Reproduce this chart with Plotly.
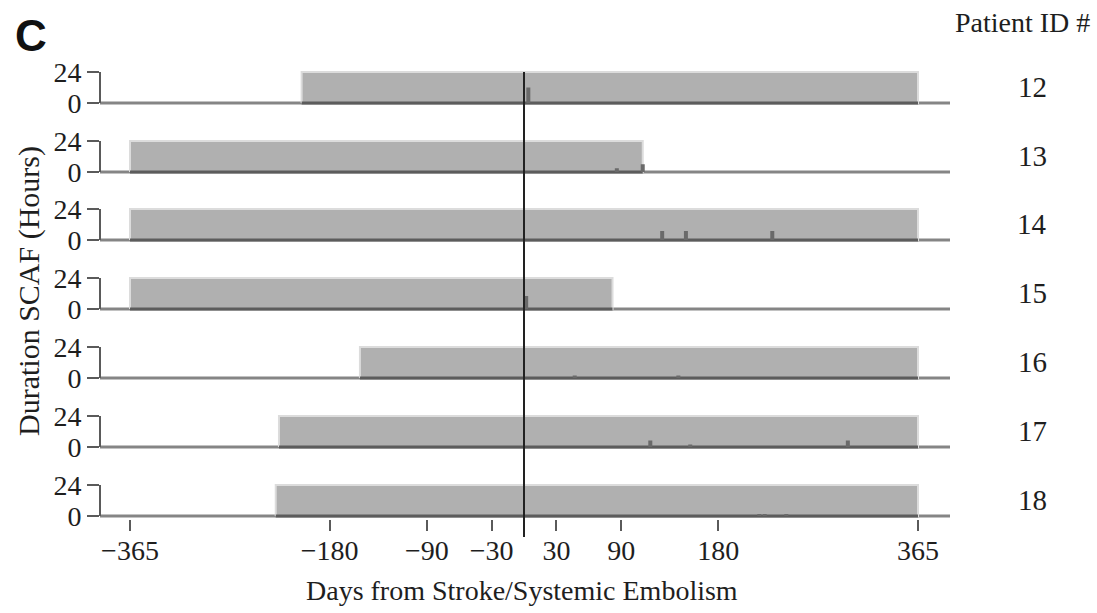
import plotly.graph_objects as go

# ---------------- data ----------------
patients = [12, 13, 14, 15, 16, 17, 18]
monitor_start = [-206, -365, -365, -365, -152, -227, -230]   # days
monitor_end = [365, 110, 365, 82, 365, 365, 365]              # days
event_days = [[4], [86, 110], [128, 150, 230], [2], [47, 143], [117, 154, 300], [218, 223, 243]]
event_hours = [[12], [3, 6], [7, 7, 7], [10], [2, 2], [5, 2, 5], [1.5, 1.5, 1.5]]
x_ticks = [-365, -180, -90, -30, 30, 90, 180, 365]
x_ticktext = ["\u2212365", "\u2212180", "\u221290", "\u221230", "30", "90", "180", "365"]
y_ticks = [0, 24]

# ---------------- layout helpers ----------------
W, H = 1097, 613
FONT = "Liberation Serif"
TXT = "#1e1e1e"
x_left_px, x_right_px = 100, 950
row0_px = [103, 172, 240, 309, 378, 447, 516]  # pixel row of "0" per panel
px_per_h = 31 / 24.0
yr = [-2, 26]

fig = go.Figure()
shapes = []
annotations = []
layout = {}

for i, pid in enumerate(patients):
    k = i + 1
    yname = "y" if k == 1 else f"y{k}"
    yax = "yaxis" if k == 1 else f"yaxis{k}"
    y0 = row0_px[i]
    bot = y0 + (0 - yr[0]) * px_per_h
    top = y0 - (yr[1] - 0) * px_per_h
    layout[yax] = dict(
        domain=[1 - bot / H, 1 - top / H], range=yr, anchor="x", automargin=False,
        tickvals=y_ticks, ticktext=[str(v) for v in y_ticks],
        ticks="outside", ticklen=12, tickwidth=2, tickcolor="#5a5a5a",
        showgrid=False, zeroline=False, showline=False,
        tickfont=dict(family=FONT, size=28, color=TXT), fixedrange=True,
    )
    s, e = monitor_start[i], monitor_end[i]
    # monitoring window
    fig.add_trace(go.Scatter(
        x=[s, e, e, s, s], y=[0, 0, 24, 24, 0], mode="lines", fill="toself",
        fillcolor="#b0b0b0", line=dict(color="#dcdcdc", width=2),
        xaxis="x", yaxis=yname, showlegend=False, hoverinfo="skip"))
    # dark baseline under window
    fig.add_trace(go.Scatter(
        x=[s, e], y=[0, 0], mode="lines", line=dict(color="#5c5c5c", width=3),
        xaxis="x", yaxis=yname, showlegend=False, hoverinfo="skip"))
    # SCAF episodes
    for d, h in zip(event_days[i], event_hours[i]):
        fig.add_trace(go.Scatter(
            x=[d, d], y=[0, h], mode="lines", line=dict(color="#6a6a6a", width=4),
            xaxis="x", yaxis=yname, showlegend=False, hoverinfo="skip"))
    # full baseline
    shapes.append(dict(type="line", xref="paper", yref=yname,
                       x0=x_left_px / W, x1=x_right_px / W, y0=0, y1=0,
                       line=dict(color="#858585", width=3), layer="below"))
    # bracket axis line
    shapes.append(dict(type="line", xref="paper", yref=yname,
                       x0=x_left_px / W, x1=x_left_px / W, y0=0, y1=24,
                       line=dict(color="#5a5a5a", width=2), layer="above"))
    # patient ID label
    annotations.append(dict(text=str(pid), xref="paper", yref=yname,
                            x=1032 / W, y=12, xanchor="center", yanchor="middle",
                            showarrow=False, font=dict(family=FONT, size=29, color=TXT)))

# stroke day line
shapes.append(dict(type="line", xref="x", yref="paper", x0=0, x1=0,
                   y0=1 - 537 / H, y1=1 - 72 / H,
                   line=dict(color="#222222", width=2), layer="above"))

scale = (918 - 130) / 730.0
x_range = [-365 - (130 - x_left_px) / scale, 365 + (x_right_px - 918) / scale]

annotations += [
    dict(text="Days from Stroke/Systemic Embolism", xref="paper", yref="paper",
         x=522 / W, y=1 - 590 / H, xanchor="center", yanchor="middle", showarrow=False,
         font=dict(family=FONT, size=28, color=TXT)),
    dict(text="Duration SCAF (Hours)", xref="paper", yref="paper", textangle=-90,
         x=29 / W, y=1 - 291 / H, xanchor="center", yanchor="middle", showarrow=False,
         font=dict(family=FONT, size=30, color=TXT)),
    dict(text="Patient ID #", xref="paper", yref="paper",
         x=1022 / W, y=1 - 22 / H, xanchor="center", yanchor="middle", showarrow=False,
         font=dict(family=FONT, size=28, color=TXT)),
    dict(text="<b>C</b>", xref="paper", yref="paper",
         x=31 / W, y=1 - 36 / H, xanchor="center", yanchor="middle", showarrow=False,
         font=dict(family="Liberation Sans", size=44, color="#111111")),
]

fig.update_layout(
    width=W, height=H, autosize=False,
    margin=dict(l=0, r=0, t=0, b=0, pad=0),
    paper_bgcolor="white", plot_bgcolor="white",
    xaxis=dict(domain=[x_left_px / W, x_right_px / W], range=x_range, anchor="y7",
               automargin=False,
               tickvals=x_ticks, ticktext=x_ticktext, ticks="outside", ticklen=11,
               tickwidth=2, tickcolor="#5a5a5a", showgrid=False, zeroline=False,
               showline=False, ticklabelstandoff=-4,
               tickfont=dict(family=FONT, size=28, color=TXT), fixedrange=True),
    shapes=shapes, annotations=annotations, showlegend=False,
    **layout,
)

fig.write_html("out.html")
